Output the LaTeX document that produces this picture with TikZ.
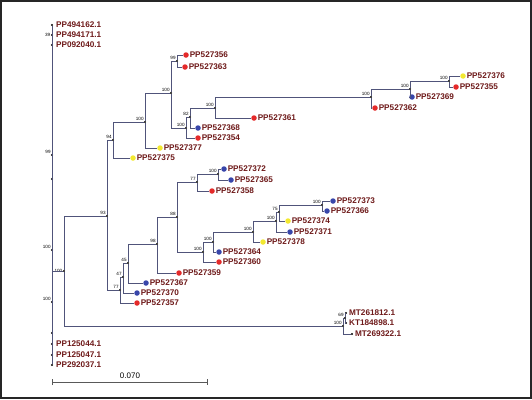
\documentclass[tikz,border=0pt]{standalone}
\usepackage{fontspec}
\setmainfont{Liberation Sans}
\usetikzlibrary{arrows.meta}
\definecolor{branchcol}{HTML}{50547A}
\definecolor{labcol}{HTML}{6E1A1A}
\definecolor{reddot}{HTML}{E42A2A}
\definecolor{bluedot}{HTML}{3846AA}
\definecolor{yellowdot}{HTML}{F2E830}
\begin{document}
\begin{tikzpicture}[
        x = 1pt, y = -1pt,
        branch/.style = {draw = branchcol, line width = 0.9pt},
        nd/.style = {circle, fill = black, inner sep = 0pt, minimum size = 2.2pt},
        rd/.style = {circle, fill = reddot, inner sep = 0pt, minimum size = 5.5pt},
        bd/.style = {circle, fill = bluedot, inner sep = 0pt, minimum size = 5.5pt},
        yd/.style = {circle, fill = yellowdot, inner sep = 0pt, minimum size = 5.5pt},
        leaf/.style = {text = labcol, font = \fontsize{8.2}{9}\selectfont\bfseries, inner sep = 0.6pt},
        boot/.style = {font = \fontsize{4.6}{5}\selectfont, inner sep = 0.3pt}
    ]
        \useasboundingbox (0,0) rectangle (532,399);
        \draw[draw = black!85, line width = 2pt] (1,1) rectangle (531,398);

        % main line with outgroups
        \node[nd, label = {[leaf, xshift = 2pt]right:PP494162.1}] (o1) at (52,25) {};
        \node[nd, label = {[leaf, xshift = 2pt]right:PP494171.1}, label = {[boot]left:39}] (o2) at (52,35) {};
        \node[nd, label = {[leaf, xshift = 2pt]right:PP092040.1}] (o3) at (52,45) {};
        \node[nd, label = {[boot]above left:99}] (m99) at (52,155) {};
        \node[nd] (m179) at (52,179) {};
        \node[nd, label = {[boot]above left:100}] (m250) at (52,250) {};
        \node[nd, label = {[boot]above left:100}] (m302) at (52,302) {};
        \node[nd] (m333) at (52,333) {};
        \node[nd, label = {[leaf, xshift = 2pt]right:PP125044.1}] (o4) at (52,344) {};
        \node[nd, label = {[leaf, xshift = 2pt]right:PP125047.1}] (o5) at (52,355) {};
        \node[nd, label = {[leaf, xshift = 2pt]right:PP292037.1}] (o6) at (52,365) {};

        % inner nodes
        \node[nd, label = {[boot]left:100}] (r) at (64,271) {};
        \node[nd, label = {[boot]above left:93}] (n93) at (107,216) {};
        \node[nd, label = {[boot]above left:94}] (n94) at (113,140) {};
        \node[nd, label = {[boot]above left:100}] (n100a) at (145,122) {};
        \node[nd, label = {[boot]above left:100}] (n100b) at (171,93) {};
        \node[nd, label = {[boot]above left:99}] (n99) at (177,61) {};
        \node[nd, label = {[boot]above left:100}] (n100c) at (186,128) {};
        \node[nd, label = {[boot]above left:82}] (n82) at (190,117) {};
        \node[nd, label = {[boot]above left:100}] (n100d) at (215,108) {};
        \node[nd, label = {[boot]above left:100}] (n100e) at (371,97) {};
        \node[nd, label = {[boot]above left:100}] (n100f) at (410,89) {};
        \node[nd, label = {[boot]above left:100}] (n100g) at (449,81) {};
        \node[nd, label = {[boot]above left:77}] (n77) at (120,290) {};
        \node[nd, label = {[boot]above left:47}] (n47) at (123,277) {};
        \node[nd, label = {[boot]above left:45}] (n45) at (128,263) {};
        \node[nd, label = {[boot]above left:98}] (n98) at (157,244) {};
        \node[nd, label = {[boot]above left:88}] (n88) at (177,217) {};
        \node[nd, label = {[boot]above left:77}] (n77b) at (197,182) {};
        \node[nd, label = {[boot]above left:100}] (n100i) at (218,174) {};
        \node[nd, label = {[boot]above left:100}] (n100h) at (203,252) {};
        \node[nd, label = {[boot]above left:100}] (n100j) at (213,242) {};
        \node[nd, label = {[boot]above left:100}] (n100k) at (253,232) {};
        \node[nd, label = {[boot]above left:100}] (n100l) at (276,221) {};
        \node[nd, label = {[boot]above left:75}] (n75) at (279,212) {};
        \node[nd, label = {[boot]above left:100}] (n100m) at (322,205) {};
        \node[nd, label = {[boot]above left:100}] (nMT) at (343,326) {};
        \node[nd, label = {[boot]above left:69}] (n69) at (345,318) {};

        % leaves
        \node[yd, label = {[leaf]right:PP527375}] (l375) at (133,158) {};
        \node[yd, label = {[leaf]right:PP527377}] (l377) at (160,148) {};
        \node[rd, label = {[leaf]right:PP527356}] (l356) at (186,55) {};
        \node[rd, label = {[leaf]right:PP527363}] (l363) at (185,67) {};
        \node[rd, label = {[leaf]right:PP527354}] (l354) at (198,138) {};
        \node[bd, label = {[leaf]right:PP527368}] (l368) at (198,128) {};
        \node[rd, label = {[leaf]right:PP527361}] (l361) at (254,118) {};
        \node[rd, label = {[leaf]right:PP527362}] (l362) at (375,108) {};
        \node[bd, label = {[leaf]right:PP527369}] (l369) at (412,97) {};
        \node[yd, label = {[leaf]right:PP527376}] (l376) at (463,76) {};
        \node[rd, label = {[leaf]right:PP527355}] (l355) at (456,87) {};
        \node[rd, label = {[leaf]right:PP527357}] (l357) at (137,303) {};
        \node[bd, label = {[leaf]right:PP527370}] (l370) at (137,293) {};
        \node[bd, label = {[leaf]right:PP527367}] (l367) at (146,283) {};
        \node[rd, label = {[leaf]right:PP527359}] (l359) at (179,273) {};
        \node[rd, label = {[leaf]right:PP527358}] (l358) at (212,191) {};
        \node[bd, label = {[leaf]right:PP527372}] (l372) at (224,169) {};
        \node[bd, label = {[leaf]right:PP527365}] (l365) at (231,180) {};
        \node[rd, label = {[leaf]right:PP527360}] (l360) at (219,262) {};
        \node[bd, label = {[leaf]right:PP527364}] (l364) at (219,252) {};
        \node[yd, label = {[leaf]right:PP527378}] (l378) at (263,242) {};
        \node[bd, label = {[leaf]right:PP527371}] (l371) at (290,232) {};
        \node[yd, label = {[leaf]right:PP527374}] (l374) at (288,221) {};
        \node[bd, label = {[leaf]right:PP527373}] (l373) at (333,201) {};
        \node[bd, label = {[leaf]right:PP527366}] (l366) at (327,211) {};
        \node[nd, label = {[leaf, xshift = 1pt]right:MT261812.1}] (lmt1) at (346,313) {};
        \node[nd, label = {[leaf, xshift = 1pt]right:KT184898.1}] (lkt) at (346,323) {};
        \node[nd, label = {[leaf, xshift = 1pt]right:MT269322.1}] (lmt2) at (352,334) {};

        % branches
        \draw[branch] (o1) -- (o6);
        \draw[branch] (r) -- (r -| o1);
        \draw[branch] (r) |- (n93);
        \draw[branch] (r) |- (nMT);
        \draw[branch] (n93) |- (n94);
        \draw[branch] (n93) |- (n77);
        \draw[branch] (n94) |- (n100a);
        \draw[branch] (n94) |- (l375);
        \draw[branch] (n100a) |- (n100b);
        \draw[branch] (n100a) |- (l377);
        \draw[branch] (n100b) |- (n99);
        \draw[branch] (n100b) |- (n100c);
        \draw[branch] (n99) |- (l356);
        \draw[branch] (n99) |- (l363);
        \draw[branch] (n100c) |- (n82);
        \draw[branch] (n100c) |- (l354);
        \draw[branch] (n82) |- (n100d);
        \draw[branch] (n82) |- (l368);
        \draw[branch] (n100d) |- (n100e);
        \draw[branch] (n100d) |- (l361);
        \draw[branch] (n100e) |- (n100f);
        \draw[branch] (n100e) |- (l362);
        \draw[branch] (n100f) |- (n100g);
        \draw[branch] (n100f) |- (l369);
        \draw[branch] (n100g) |- (l376);
        \draw[branch] (n100g) |- (l355);
        \draw[branch] (n77) |- (n47);
        \draw[branch] (n77) |- (l357);
        \draw[branch] (n47) |- (n45);
        \draw[branch] (n47) |- (l370);
        \draw[branch] (n45) |- (n98);
        \draw[branch] (n45) |- (l367);
        \draw[branch] (n98) |- (n88);
        \draw[branch] (n98) |- (l359);
        \draw[branch] (n88) |- (n77b);
        \draw[branch] (n88) |- (n100h);
        \draw[branch] (n77b) |- (n100i);
        \draw[branch] (n77b) |- (l358);
        \draw[branch] (n100i) |- (l372);
        \draw[branch] (n100i) |- (l365);
        \draw[branch] (n100h) |- (n100j);
        \draw[branch] (n100h) |- (l360);
        \draw[branch] (n100j) |- (n100k);
        \draw[branch] (n100j) |- (l364);
        \draw[branch] (n100k) |- (n100l);
        \draw[branch] (n100k) |- (l378);
        \draw[branch] (n100l) |- (n75);
        \draw[branch] (n100l) |- (l371);
        \draw[branch] (n75) |- (n100m);
        \draw[branch] (n75) |- (l374);
        \draw[branch] (n100m) |- (l373);
        \draw[branch] (n100m) |- (l366);
        \draw[branch] (nMT) |- (n69);
        \draw[branch] (nMT) |- (lmt2);
        \draw[branch] (n69) |- (lmt1);
        \draw[branch] (n69) |- (lkt);

        % scale bar
        \coordinate (sb1) at (52,382);
        \coordinate (sb2) at (208,382);
        \draw[draw = black!65, line width = 0.8pt, {Bar[width = 6pt]}-{Bar[width = 6pt]}] (sb1) -- (sb2);
        \node[font = \fontsize{8}{9}\selectfont, anchor = south, inner sep = 1pt] (sblab) at (130,380) {0.070};
    \end{tikzpicture}
\end{document}
